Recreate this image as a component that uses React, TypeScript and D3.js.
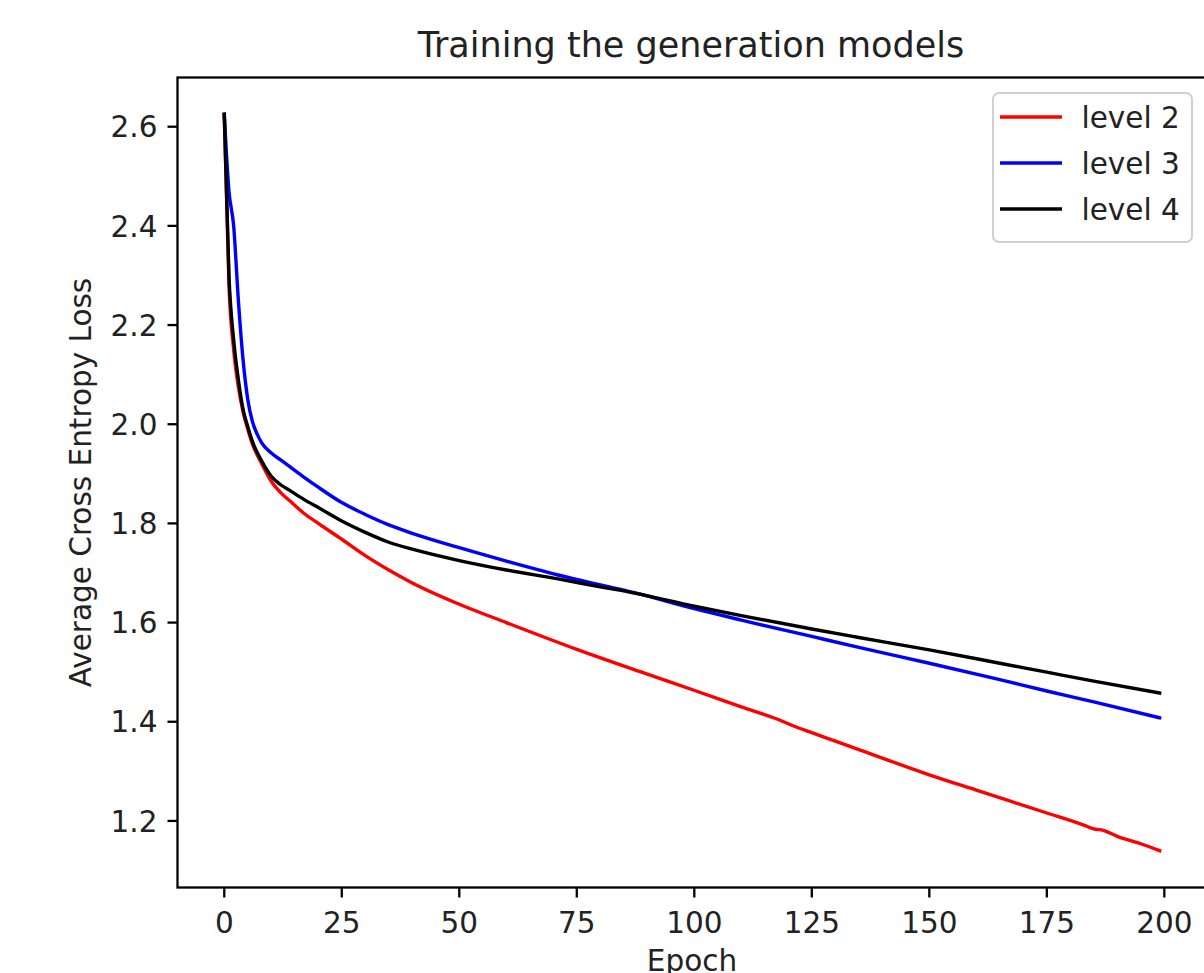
import React from 'react';
import * as d3 from 'd3';

const level2Epochs = [0, 1, 2, 3, 4, 5, 6, 8, 10, 12, 14, 17, 20, 25, 30, 35, 40, 50, 60, 75, 90, 101, 110, 118, 121, 125, 130, 135, 150, 160, 175, 183, 185, 187, 190, 195, 199];
const level2Loss = [2.625, 2.28, 2.15, 2.075, 2.025, 1.99, 1.96, 1.92, 1.885, 1.862, 1.845, 1.82, 1.8, 1.768, 1.735, 1.706, 1.68, 1.637, 1.6, 1.546, 1.496, 1.46, 1.43, 1.404, 1.392, 1.378, 1.361, 1.344, 1.293, 1.262, 1.216, 1.191, 1.184, 1.181, 1.169, 1.154, 1.14];

const level3Epochs = [0, 1, 2, 3, 4, 5, 6, 7, 8, 10, 12, 14, 17, 20, 25, 30, 35, 40, 50, 60, 71, 80, 87, 100, 110, 125, 135, 150, 165, 175, 185, 199];
const level3Loss = [2.625, 2.47, 2.4, 2.25, 2.13, 2.05, 2.005, 1.98, 1.962, 1.942, 1.928, 1.914, 1.893, 1.873, 1.842, 1.818, 1.797, 1.78, 1.751, 1.724, 1.696, 1.676, 1.661, 1.628, 1.605, 1.572, 1.55, 1.518, 1.485, 1.462, 1.44, 1.408];

const level4Epochs = [0, 1, 2, 3, 4, 5, 6, 8, 10, 12, 14, 17, 20, 25, 30, 35, 40, 50, 60, 71, 80, 87, 100, 110, 125, 135, 150, 165, 175, 185, 199];
const level4Loss = [2.625, 2.3, 2.17, 2.09, 2.03, 1.995, 1.965, 1.925, 1.895, 1.878, 1.866, 1.848, 1.832, 1.805, 1.782, 1.762, 1.748, 1.725, 1.706, 1.688, 1.672, 1.66, 1.633, 1.614, 1.587, 1.57, 1.545, 1.518, 1.5, 1.482, 1.458];

const seriesNames = ['level 2', 'level 3', 'level 4'];
const seriesColors = ['#ff0000', '#0000ff', '#000000'];

const xTicks = [0, 25, 50, 75, 100, 125, 150, 175, 200];
const yTicks = [1.2, 1.4, 1.6, 1.8, 2.0, 2.2, 2.4, 2.6];

const W = 1204;
const H = 973;
const FONT = '"DejaVu Sans", sans-serif';
const FS = 29.5;

export default function App() {
  const series = [
    level2Epochs.map((e, i) => [e, level2Loss[i]] as [number, number]),
    level3Epochs.map((e, i) => [e, level3Loss[i]] as [number, number]),
    level4Epochs.map((e, i) => [e, level4Loss[i]] as [number, number]),
  ];

  // matplotlib-style 5% margins
  const all = series.flat();
  const [x0, x1] = d3.extent(all, (d) => d[0]) as [number, number];
  const [y0, y1] = d3.extent(all, (d) => d[1]) as [number, number];
  const xPad = (x1 - x0) * 0.05;
  const yPad = (y1 - y0) * 0.05;

  const left = 177.5;
  const right = 1206.4;
  const top = 77.5;
  const bottom = 887.5;

  const x = d3.scaleLinear().domain([x0 - xPad, x1 + xPad]).range([left, right]);
  const y = d3.scaleLinear().domain([y0 - yPad, y1 + yPad]).range([bottom, top]);

  const line = d3
    .line<[number, number]>()
    .x((d) => x(d[0]))
    .y((d) => y(d[1]))
    .curve(d3.curveMonotoneX);

  const cx = (left + right) / 2;
  const cy = (top + bottom) / 2;

  return (
    <svg
      width={W}
      height={H}
      style={{ position: 'absolute', left: 0, top: 0, background: '#fff' }}
      fontFamily={FONT}
    >
      <rect x={0} y={0} width={W} height={H} fill="#fff" />

      {series.map((s, i) => (
        <path
          key={seriesNames[i]}
          d={line(s) || ''}
          fill="none"
          stroke={seriesColors[i]}
          strokeWidth={3.4}
          strokeLinejoin="round"
          strokeLinecap="square"
        />
      ))}

      {/* spines */}
      <rect
        x={left}
        y={top}
        width={right - left}
        height={bottom - top}
        fill="none"
        stroke="#000"
        strokeWidth={2.3}
      />

      {/* x axis */}
      {xTicks.map((t) => (
        <g key={t} transform={`translate(${x(t)},${bottom})`}>
          <line y1={0} y2={10} stroke="#000" strokeWidth={2.3} />
          <text y={45.5} textAnchor="middle" fontSize={FS} fill="#222">
            {t}
          </text>
        </g>
      ))}

      {/* y axis */}
      {yTicks.map((t) => (
        <g key={t} transform={`translate(${left},${y(t)})`}>
          <line x1={0} x2={-10} stroke="#000" strokeWidth={2.3} />
          <text x={-20} dy={10.7} textAnchor="end" fontSize={FS} fill="#222">
            {t.toFixed(1)}
          </text>
        </g>
      ))}

      <text x={cx} y={971} textAnchor="middle" fontSize={FS} fill="#222">
        Epoch
      </text>
      <text
        transform={`translate(91,${cy}) rotate(-90)`}
        textAnchor="middle"
        fontSize={FS}
        fill="#222"
      >
        Average Cross Entropy Loss
      </text>
      <text x={cx - 1} y={57} textAnchor="middle" fontSize={35} fill="#222">
        Training the generation models
      </text>

      {/* legend */}
      <g>
        <rect
          x={993}
          y={93}
          width={199}
          height={149}
          rx={6}
          fill="#fff"
          fillOpacity={0.8}
          stroke="#d0d0d0"
          strokeWidth={2}
        />
        {seriesNames.map((name, i) => {
          const ly = 117 + i * 46;
          return (
            <g key={name}>
              <line x1={1000} x2={1062} y1={ly} y2={ly} stroke={seriesColors[i]} strokeWidth={3.4} />
              <text x={1081.5} y={ly + 11} fontSize={FS} fill="#222">
                {name}
              </text>
            </g>
          );
        })}
      </g>
    </svg>
  );
}
